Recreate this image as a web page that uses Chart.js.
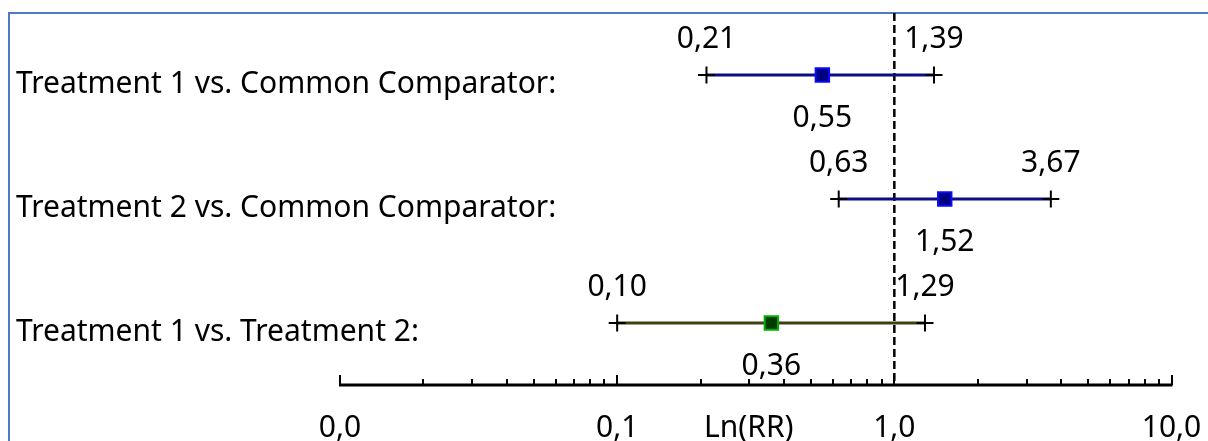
<!DOCTYPE html>
<html>
<head>
<meta charset="utf-8">
<script src="https://cdn.jsdelivr.net/npm/chart.js@4"></script>
<style>
  html, body { margin: 0; padding: 0; background: #fff; }
  #wrap { width: 1208px; height: 441px; position: relative; }
</style>
</head>
<body>
<div id="wrap"><canvas id="c"></canvas></div>
<script>
// ---- data ----
const rowLabels = [
  "Treatment 1 vs. Common Comparator:",
  "Treatment 2 vs. Common Comparator:",
  "Treatment 1 vs. Treatment 2:"
];
const pointEstimates = [0.55, 1.52, 0.36];
const lowerCI = [0.21, 0.63, 0.10];
const upperCI = [1.39, 3.67, 1.29];
const majorTickValues = [0.01, 0.1, 1, 10];
const tickLabels = ["0,0", "0,1", "1,0", "10,0"];
const axisTitle = "Ln(RR)";
const referenceValue = 1;

// ---- styles ----
const lineColors = ["#0c0c88", "#0c0c88", "#3f3f10"];
const markerFill = ["#000080", "#000080", "#003a00"];
const markerBorder = ["#0a0aff", "#0a0aff", "#00b000"];
const FONT = '"Noto Sans", "Open Sans", sans-serif';

const fmt = v => v.toFixed(2).replace('.', ',');
const rowY = i => i + 0.5;

// all log ticks (1..9 x 10^k)
const allTicks = [];
for (let d = 0; d < majorTickValues.length - 1; d++) {
  for (let m = 1; m <= 9; m++) allTicks.push(Number((majorTickValues[d] * m).toPrecision(3)));
}
allTicks.push(majorTickValues[majorTickValues.length - 1]);
const isMajor = v => majorTickValues.some(m => Math.abs(m - v) < 1e-12);

const datasets = [];
// reference dashed line
datasets.push({
  type: 'line', data: [{x: referenceValue, y: 0}, {x: referenceValue, y: rowLabels.length}],
  borderColor: '#000', borderWidth: 2.5, borderDash: [8, 4], pointRadius: 0, order: 4, clip: false
});
// CI lines
rowLabels.forEach((lab, i) => {
  datasets.push({
    type: 'line', data: [{x: lowerCI[i], y: rowY(i)}, {x: upperCI[i], y: rowY(i)}],
    borderColor: lineColors[i], borderWidth: 3, pointRadius: 0, order: 3, clip: false
  });
});
// CI end caps
datasets.push({
  type: 'scatter',
  data: rowLabels.flatMap((lab, i) => [{x: lowerCI[i], y: rowY(i)}, {x: upperCI[i], y: rowY(i)}]),
  pointStyle: 'cross', pointRadius: 8.5, borderColor: '#000', borderWidth: 2, order: 2, clip: false
});
// point estimates
datasets.push({
  type: 'scatter',
  data: rowLabels.map((lab, i) => ({x: pointEstimates[i], y: rowY(i)})),
  pointStyle: 'rect', pointRadius: 9.5,
  backgroundColor: markerFill, borderColor: markerBorder, borderWidth: 2, order: 1, clip: false
});

const forestPlugin = {
  id: 'forest',
  beforeDraw(chart) {
    const ctx = chart.ctx;
    ctx.save();
    ctx.fillStyle = '#fff';
    ctx.fillRect(0, 0, chart.width, chart.height);
    ctx.strokeStyle = '#5079c6';
    ctx.lineWidth = 2;
    ctx.beginPath();
    ctx.moveTo(9, chart.height);
    ctx.lineTo(9, 13);
    ctx.lineTo(chart.width, 13);
    ctx.stroke();
    ctx.restore();
  },
  afterDraw(chart) {
    const ctx = chart.ctx;
    const xs = chart.scales.x, ys = chart.scales.y;
    const axisY = chart.chartArea.bottom;
    ctx.save();
    // axis line and upward ticks
    ctx.strokeStyle = '#000';
    ctx.lineWidth = 3;
    ctx.beginPath();
    ctx.moveTo(xs.getPixelForValue(majorTickValues[0]) - 1, axisY);
    ctx.lineTo(xs.getPixelForValue(majorTickValues[majorTickValues.length - 1]) + 1, axisY);
    ctx.stroke();
    ctx.lineWidth = 2;
    xs.ticks.forEach(t => {
      const px = Math.round(xs.getPixelForValue(t.value));
      const len = isMajor(t.value) ? 10 : 6;
      ctx.beginPath();
      ctx.moveTo(px, axisY);
      ctx.lineTo(px, axisY - len);
      ctx.stroke();
    });
    // axis title
    ctx.fillStyle = '#000';
    ctx.font = '30px ' + FONT;
    ctx.textAlign = 'center';
    ctx.textBaseline = 'alphabetic';
    ctx.fillText(axisTitle, (chart.chartArea.left + chart.chartArea.right) / 2 - 7, 437);
    // value labels
    rowLabels.forEach((lab, i) => {
      const py = ys.getPixelForValue(rowY(i));
      ctx.fillText(fmt(lowerCI[i]), xs.getPixelForValue(lowerCI[i]), py - 27);
      ctx.fillText(fmt(upperCI[i]), xs.getPixelForValue(upperCI[i]), py - 27);
      ctx.fillText(fmt(pointEstimates[i]), xs.getPixelForValue(pointEstimates[i]), py + 52);
    });
    // row labels
    ctx.textAlign = 'left';
    rowLabels.forEach((lab, i) => {
      const py = ys.getPixelForValue(rowY(i));
      ctx.fillText(lab, 16, py + 18);
    });
    ctx.restore();
  }
};

new Chart(document.getElementById('c'), {
  type: 'scatter',
  data: { datasets },
  options: {
    responsive: true,
    maintainAspectRatio: false,
    animation: false,
    events: [],
    layout: { padding: { left: 340, right: 36.5, top: 13, bottom: 0 } },
    plugins: { legend: { display: false }, tooltip: { enabled: false } },
    scales: {
      x: {
        type: 'logarithmic',
        min: majorTickValues[0],
        max: majorTickValues[majorTickValues.length - 1],
        afterBuildTicks(scale) {
          scale.ticks = allTicks.map(v => ({ value: v, major: isMajor(v) }));
        },
        afterFit(scale) {
          scale.height = 56;
          scale.paddingLeft = 0;
          scale.paddingRight = 0;
          scale.paddingTop = 0;
          scale.paddingBottom = 0;
        },
        grid: { display: false, drawTicks: false },
        border: { display: false },
        ticks: {
          autoSkip: false,
          maxRotation: 0,
          minRotation: 0,
          padding: 28,
          color: '#000',
          font: { family: FONT, size: 30, lineHeight: 1.0 },
          callback(v) {
            const k = majorTickValues.findIndex(m => Math.abs(m - v) < 1e-12);
            return k >= 0 ? tickLabels[k] : '';
          }
        }
      },
      y: {
        type: 'linear', min: 0, max: rowLabels.length, reverse: true, display: false
      }
    }
  },
  plugins: [forestPlugin]
});
</script>
</body>
</html>
